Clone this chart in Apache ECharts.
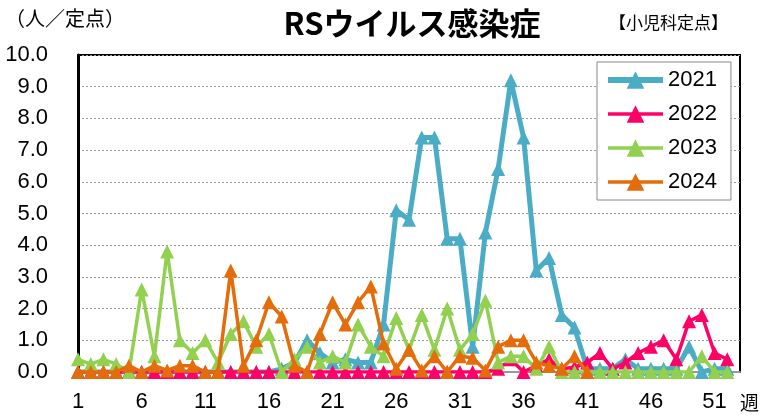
<!DOCTYPE html>
<html>
<head>
<meta charset="utf-8">
<title>RSウイルス感染症</title>
<script src="https://cdn.jsdelivr.net/npm/echarts@6/dist/echarts.min.js"></script>
<style>
  html, body { margin: 0; padding: 0; background: #fff; }
  #chart { width: 760px; height: 417px; }
</style>
</head>
<body>
<div id="chart"></div>
<script>
// 週 (x axis categories)
const weeks = ['1','2','3','4','5','6','7','8','9','10','11','12','13','14','15','16','17','18','19','20',
  '21','22','23','24','25','26','27','28','29','30','31','32','33','34','35','36','37','38','39','40',
  '41','42','43','44','45','46','47','48','49','50','51','52','53'];

// 定点当たり報告数
const y2021 = [0,0,0,0,0,0,0,0,0,0,0,0,0,0,0,0,0.1,0.3,1.0,0.6,
  0.3,0.4,0.3,0.3,1.5,5.1,4.8,7.4,7.4,4.2,4.2,0.8,4.4,6.4,9.2,7.4,3.2,3.6,1.8,1.4,
  0.1,0.1,0.1,0.4,0.1,0.1,0.1,0.1,0.8,0,0.1,0.1];
const y2022 = [0,0,0,0,0,0,0,0,0,0,0,0,0,0,0,0,0,0,0,0,
  0,0,0,0,0,0,0,0,0,0,0,0,0,0.1,0.4,0,0.2,0.4,0.1,0.15,
  0.3,0.6,0.1,0.3,0.6,0.8,1.0,0.4,1.6,1.8,0.6,0.4];
const y2023 = [0.4,0.25,0.4,0.25,0,2.6,0.5,3.8,1.0,0.6,1.0,0.3,1.2,1.6,0.8,1.2,0,0.4,0.8,0.3,
  0.5,0.3,1.5,0.8,0.5,1.7,0.7,1.8,0.7,2.0,0.7,1.2,2.25,0.3,0.5,0.5,0.1,0.8,0,0,
  0,0,0,0,0,0,0,0,0,0.5,0,0];
const y2024 = [0,0,0,0,0.2,0,0.2,0.05,0.2,0.2,0,0,3.2,0.2,1.0,2.2,1.75,0.2,0,1.2,
  2.2,1.5,2.2,2.7,0.9,0.1,0.7,0.05,0.5,0,0.5,0.45,0.05,0.8,1.0,1.0,0.3,0.2,0.1,0.5,
  0];

const yTicks = { min: 0, max: 10, step: 1 };

const numFont = '"Liberation Sans", Arial, sans-serif';
const jpFont = '"Noto Sans CJK JP", sans-serif';

function lineSeries(name, data, color, width, z) {
  return {
    name: name,
    type: 'line',
    data: data,
    z: z,
    symbol: 'triangle',
    symbolSize: 14,
    showAllSymbol: true,
    lineStyle: { color: color, width: width },
    itemStyle: { color: color },
    emphasis: { disabled: true }
  };
}

const chart = echarts.init(document.getElementById('chart'));

chart.setOption({
  animation: false,
  title: [
    {
      text: 'RSウイルス感染症',
      left: 407, top: 3, textAlign: 'center',
      textStyle: { fontFamily: jpFont, fontSize: 31, fontWeight: 'bold', color: '#000' }
    },
    {
      text: '（人／定点）',
      left: 0, top: 3,
      textStyle: { fontFamily: jpFont, fontSize: 20, fontWeight: 'normal', color: '#000' }
    },
    {
      text: '【小児科定点】',
      left: 604, top: 9,
      textStyle: { fontFamily: jpFont, fontSize: 17, fontWeight: 'normal', color: '#000' }
    }
  ],
  graphic: [
    {
      type: 'text', left: 740, top: 393,
      style: { text: '週', fontFamily: jpFont, fontSize: 19, fill: '#000' }
    }
  ],
  grid: {
    left: 78, right: 20, top: 55, bottom: 45,
    show: true, borderColor: '#000', borderWidth: 2, backgroundColor: '#fff'
  },
  legend: {
    orient: 'vertical',
    left: 597, top: 62,
    padding: [7, 14, 7, 8],
    itemWidth: 55, itemHeight: 22, itemGap: 12,
    backgroundColor: '#fff',
    borderColor: '#888', borderWidth: 1,
    textStyle: { fontFamily: numFont, fontSize: 22, color: '#000' },
    data: [
      { name: '2021', lineStyle: { width: 6 } },
      { name: '2022', lineStyle: { width: 3.5 } },
      { name: '2023', lineStyle: { width: 3.5 } },
      { name: '2024', lineStyle: { width: 3.5 } }
    ]
  },
  xAxis: {
    type: 'category',
    data: weeks,
    boundaryGap: false,
    axisLine: { lineStyle: { color: '#999', width: 2 } },
    axisTick: { show: true, interval: 4, length: 5, lineStyle: { color: '#999', width: 2 } },
    axisLabel: { interval: 4, margin: 19, fontFamily: numFont, fontSize: 22, color: '#000' },
    splitLine: { show: false }
  },
  yAxis: {
    type: 'value',
    min: yTicks.min, max: yTicks.max, interval: yTicks.step,
    axisLine: { show: true, lineStyle: { color: '#000', width: 3 } },
    axisTick: { show: false },
    axisLabel: {
      margin: 30, fontFamily: numFont, fontSize: 22, color: '#000',
      formatter: v => v.toFixed(1)
    },
    splitLine: { show: true, lineStyle: { color: '#999', type: [2, 2], width: 1 } }
  },
  series: [
    lineSeries('2021', y2021, '#4BACC6', 5, 2),
    lineSeries('2022', y2022, '#FF0066', 3.5, 3),
    lineSeries('2023', y2023, '#92D050', 3.5, 4),
    lineSeries('2024', y2024, '#E46C0A', 3.5, 5)
  ]
});
</script>
</body>
</html>
